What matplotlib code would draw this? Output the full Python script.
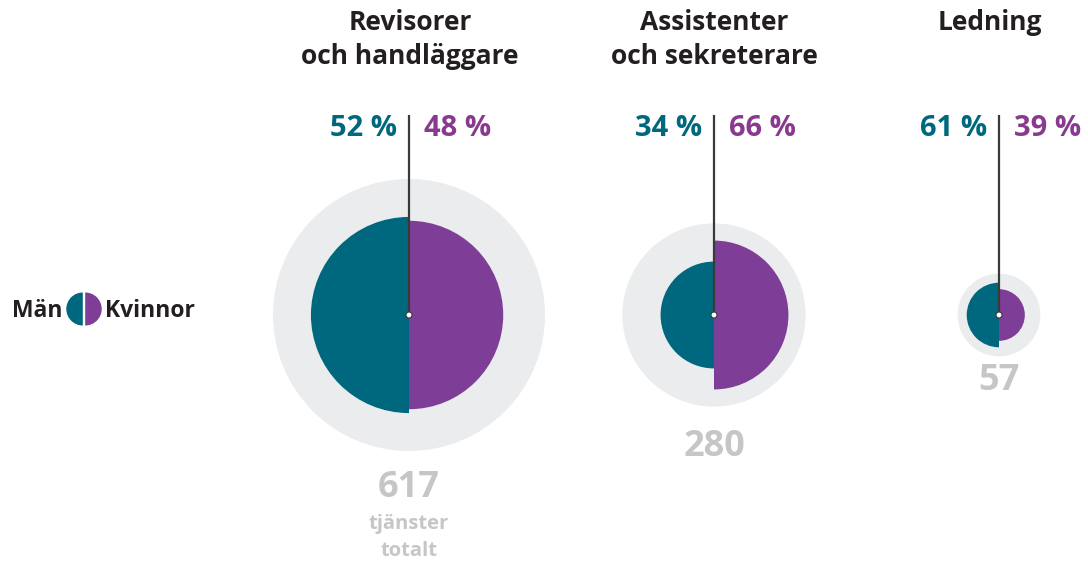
import numpy as np
import matplotlib.pyplot as plt
from matplotlib.patches import Wedge, Circle

plt.rcParams['font.family'] = ['Open Sans', 'DejaVu Sans']

# data
categories = ["Revisorer\noch handläggare", "Assistenter\noch sekreterare", "Ledning"]
totals = [617, 280, 57]
men_pct = [52, 34, 61]
women_pct = [48, 66, 39]

TEAL = '#00687e'
PURPLE = '#7e3d96'
PURPLE_TXT = '#8a3a8e'
GREY_BG = '#ebecee'
GREY_TXT = '#c6c6c6'
DARK = '#231f20'

fig = plt.figure(figsize=(10.88, 5.64), dpi=100)
ax = fig.add_axes([0, 0, 1, 1])
ax.set_xlim(0, 1088)
ax.set_ylim(564, 0)
ax.set_aspect('equal')
ax.axis('off')

# layout
cx = [409, 714, 999]
cy = 315
title_x = [410, 714, 990]
num_gap = [37, 40, 25]
k = 136 / np.sqrt(617)

for i, name in enumerate(categories):
    x = cx[i]
    R = k * np.sqrt(totals[i])
    rm = k * np.sqrt(totals[i] * men_pct[i] / 100)
    rw = k * np.sqrt(totals[i] * women_pct[i] / 100)

    ax.add_patch(Circle((x, cy), R, color=GREY_BG, lw=0, zorder=1))
    ax.add_patch(Wedge((x, cy), rm, 90, 270, color=TEAL, lw=0, zorder=2))
    ax.add_patch(Wedge((x, cy), rw, -90, 90, color=PURPLE, lw=0, zorder=2))

    ax.plot([x, x], [cy, 115], color='#3a3a3a', lw=1.6, zorder=3,
            solid_capstyle='butt')
    ax.add_patch(Circle((x, cy), 3, facecolor='white', edgecolor='#3a3a3a',
                        lw=0.8, zorder=4))

    ax.text(x - 12, 128, f"{men_pct[i]} %", color=TEAL, fontsize=21,
            fontweight='bold', ha='right', va='center')
    ax.text(x + 15, 128, f"{women_pct[i]} %", color=PURPLE_TXT, fontsize=21,
            fontweight='bold', ha='left', va='center')

    for j, line in enumerate(name.split("\n")):
        ax.text(title_x[i], 22 + 35 * j, line, color=DARK, fontsize=19,
                fontweight='bold', ha='center', va='center')

    ax.text(x, cy + R + num_gap[i], str(totals[i]), color=GREY_TXT,
            fontsize=26, fontweight='bold', ha='center', va='center')

ax.text(409, 524, "tjänster", color=GREY_TXT, fontsize=14.5,
        fontweight='bold', ha='center', va='center')
ax.text(409, 551, "totalt", color=GREY_TXT, fontsize=14.5,
        fontweight='bold', ha='center', va='center')

# legend
lx, ly = 84, 309
ax.add_patch(Wedge((lx - 1.2, ly), 16.5, 90, 270, color=TEAL, lw=0))
ax.add_patch(Wedge((lx + 1.2, ly), 16.5, -90, 90, color=PURPLE, lw=0))
ax.text(62, 311, "Män", color=DARK, fontsize=16.5, fontweight='bold',
        ha='right', va='center')
ax.text(105, 311, "Kvinnor", color=DARK, fontsize=16.5, fontweight='bold',
        ha='left', va='center')

fig.savefig('out.png', dpi=100, facecolor='white')
